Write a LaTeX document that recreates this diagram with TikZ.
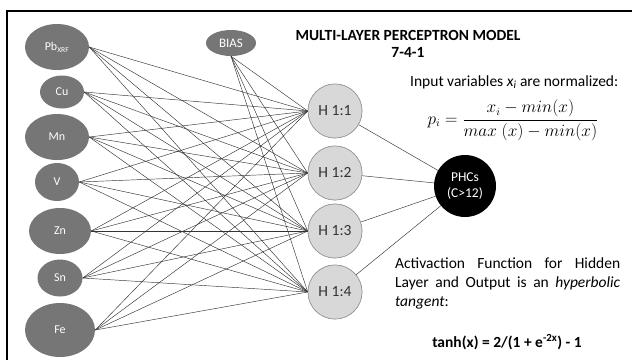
\documentclass[tikz,border=0pt]{standalone}
\usepackage{fontspec}
\setmainfont{Carlito}
\usetikzlibrary{shapes.geometric}
\definecolor{ingray}{RGB}{118,118,118}
\definecolor{hidfill}{RGB}{216,216,216}
\definecolor{hiddraw}{RGB}{150,150,150}
\begin{document}
\begin{tikzpicture}[x=1pt,y=-1pt,
  inp/.style={ellipse,fill=ingray,text=white,inner sep=0pt,font=\fontsize{12}{14}\selectfont},
  hid/.style={circle,fill=hidfill,draw=hiddraw,line width=0.6pt,minimum size=54pt,inner sep=0pt,text=black!80,font=\fontsize{15.5}{17}\selectfont},
  outn/.style={circle,fill=black,text=white,minimum size=62pt,inner sep=0pt,align=center,font=\fontsize{13.5}{16}\selectfont},
  conn/.style={draw=black!80,line width=0.45pt},
  txt/.style={inner sep=0pt,font=\fontsize{15.5}{19}\selectfont}]
\useasboundingbox (0,0) rectangle (632,360);
\fill[white] (0,0) rectangle (632,360);
\draw[line width=1.4pt] (7,360) -- (7,11) -- (632,11);
% inputs
\node[inp,minimum width=64pt,minimum height=46pt] (pb) at (57,47) {Pb\textsubscript{\fontsize{7.5}{8}\selectfont XRF}};
\node[inp,minimum width=44pt,minimum height=33pt] (cu) at (62,92) {Cu};
\node[inp,minimum width=64pt,minimum height=46pt] (mn) at (57,137) {Mn};
\node[inp,minimum width=44pt,minimum height=38pt] (v) at (57,182) {V};
\node[inp,minimum width=62pt,minimum height=46pt] (zn) at (60,231) {Zn};
\node[inp,minimum width=45pt,minimum height=37pt] (sn) at (60,278) {Sn};
\node[inp,minimum width=70pt,minimum height=54pt] (fe) at (60,330) {Fe};
\node[inp,minimum width=50pt,minimum height=26pt,font=\fontsize{13}{14}\selectfont] (bias) at (231,43) {BIAS};
% hidden
\node[hid] (h1) at (335,111) {H 1:1};
\node[hid] (h2) at (335,173) {H 1:2};
\node[hid] (h3) at (335,231) {H 1:3};
\node[hid] (h4) at (335,292) {H 1:4};
\node[outn] (out) at (465,186) {PHCs\\(C>12)};
% connectors
\foreach \i in {pb,cu,mn,v,zn,sn,fe}{
  \foreach \h in {h1,h2,h3,h4}{
    \draw[conn] (\i.east) -- (\h.west);
  }
}
\foreach \h in {h1,h2,h3,h4}{
  \draw[conn] (bias.south) -- (\h.west);
  \draw[conn] (\h) -- (out);
}
% redraw hidden nodes above lines
\node[hid] at (335,111) {H 1:1};
\node[hid] at (335,173) {H 1:2};
\node[hid] at (335,231) {H 1:3};
\node[hid] at (335,292) {H 1:4};
% texts
\node[txt,font=\fontsize{15.5}{18}\selectfont\bfseries,align=center] (title) at (408,44) {MULTI-LAYER PERCEPTRON MODEL\\[-1pt]7-4-1};
\node[txt,anchor=west] (inv) at (410,82) {Input variables \textit{x\textsubscript{i}} are normalized:};
\node[inner sep=0pt,font=\fontsize{16.3}{19}\selectfont] (frm) at (513,120) {$\displaystyle p_i=\frac{x_i-min(x)}{max\;(x)-min(x)}$};
\node[txt,anchor=north west,text width=225pt,align=justify] (act) at (395,258) {Activaction Function for Hidden Layer and Output is an \textit{hyperbolic tangent}:};
\node[txt,font=\fontsize{15.5}{18}\selectfont\bfseries] (tanh) at (507,342) {tanh(x) = 2/(1 + e\textsuperscript{-2x}) - 1};
\end{tikzpicture}
\end{document}
